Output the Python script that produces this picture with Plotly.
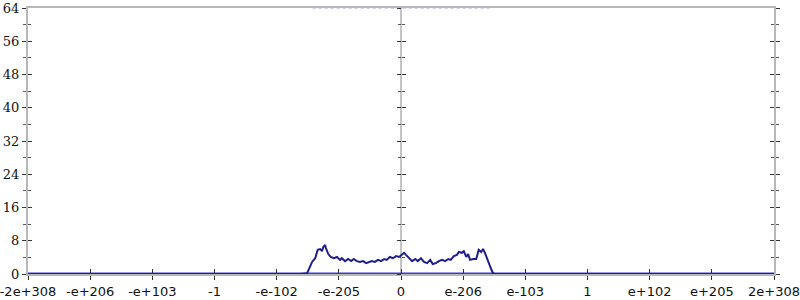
import plotly.graph_objects as go

# tick positions (axis units) and their labels
tick_pos = [-6, -5, -4, -3, -2, -1, 0, 1, 2, 3, 4, 5, 6]
tick_labels = ["-2e+308", "-e+206", "-e+103", "-1", "-e-102", "-e-205", "0",
               "e-206", "e-103", "1", "e+102", "e+205", "2e+308"]
y_ticks = [0, 8, 16, 24, 32, 40, 48, 56, 64]

# main series
xs = [-6, -1.62, -1.51, -1.48, -1.43, -1.38, -1.34, -1.30, -1.27, -1.25, -1.22, -1.21,
      -1.17, -1.13, -1.08, -1.03, -0.98, -0.95, -0.90, -0.85, -0.80, -0.76, -0.71,
      -0.66, -0.61, -0.56, -0.51, -0.47, -0.42, -0.37, -0.32, -0.27, -0.23, -0.18,
      -0.13, -0.08, -0.03, 0.02, 0.05, 0.08, 0.13, 0.18, 0.23, 0.27, 0.32, 0.37,
      0.42, 0.47, 0.51, 0.56, 0.61, 0.66, 0.71, 0.76, 0.80, 0.85, 0.90, 0.93, 0.98,
      1.01, 1.05, 1.08, 1.11, 1.16, 1.21, 1.25, 1.29, 1.32, 1.35, 1.38, 1.42, 1.45,
      1.48, 1.51, 6]
ys = [0, 0, 0.2, 1.4, 2.9, 3.8, 5.8, 6.0, 5.5, 6.5, 7.0, 6.3,
      4.8, 4.1, 3.8, 4.1, 3.4, 3.8, 3.1, 3.6, 3.1, 3.6, 3.1,
      2.9, 3.1, 2.6, 2.9, 3.1, 2.9, 3.4, 3.1, 3.6, 3.4, 4.1,
      3.8, 4.3, 4.1, 4.8, 5.1, 4.6, 3.8, 3.1, 3.6, 3.1, 3.8, 2.9,
      2.6, 3.4, 2.4, 2.6, 3.1, 3.4, 3.1, 3.6, 3.4, 4.3, 4.6, 5.3, 5.1,
      5.5, 4.1, 4.8, 3.4, 3.6, 3.6, 5.8, 5.3, 6.0, 5.1, 3.8, 2.4, 1.2,
      0.2, 0, 0]

# faint baseline / clipped band
base_x = [-6, 6]
base_y = [0, 0]
top_x = [-1.42, 1.42]
top_y = [64, 64]

fig = go.Figure()
# empty traces so that every overlay axis is drawn
for xa, ya in [("x2", "y2"), ("x", "y3"), ("x", "y4"), ("x", "y5"), ("x", "y6")]:
    fig.add_trace(go.Scatter(x=[None], y=[None], xaxis=xa, yaxis=ya,
                             mode="lines", hoverinfo="skip"))
fig.add_trace(go.Scatter(x=top_x, y=top_y, mode="lines",
                         line=dict(color="rgba(110,110,235,0.35)", width=2, dash="dot"),
                         hoverinfo="skip"))
fig.add_trace(go.Scatter(x=base_x, y=base_y, mode="lines",
                         line=dict(color="#3c3cd2", width=3),
                         hoverinfo="skip"))
fig.add_trace(go.Scatter(x=xs, y=ys, mode="lines",
                         line=dict(color="#1f1f8a", width=2),
                         hoverinfo="skip"))

AX = "#b8b8b8"
TK = "#333333"
serif = dict(family="DejaVu Serif", size=13, color="#111111")
sans = dict(family="DejaVu Sans", size=13, color="#111111")

def yax(line=True, **kw):
    d = dict(range=[0, 64], tickvals=y_ticks, showgrid=False, zeroline=False,
             showline=line, linecolor=AX, linewidth=2, tickcolor=TK,
             ticklen=4, tickwidth=1, fixedrange=True, automargin=False,
             minor=dict(dtick=4, ticklen=3, tickcolor="#555555", ticks=kw.pop("mt", "outside")))
    d.update(kw)
    return d

fig.update_layout(
    width=800, height=300,
    margin=dict(l=28, r=26, t=8, b=26),
    paper_bgcolor="white", plot_bgcolor="white",
    showlegend=False,
    xaxis=dict(range=[-6, 6], tickvals=tick_pos, ticktext=tick_labels,
               showgrid=False, zeroline=False, showline=True, linecolor=AX,
               linewidth=2, mirror=True, ticks="outside", ticklen=4,
               tickcolor=TK, tickfont=sans, fixedrange=True, automargin=False,
               ticklabeloverflow="allow"),
    xaxis2=dict(range=[-6, 6], tickvals=tick_pos, overlaying="x",
                showgrid=False, zeroline=False, showline=False,
                ticks="inside", ticklen=5, tickcolor=TK, automargin=False,
                showticklabels=False, fixedrange=True),
    yaxis=yax(ticks="outside", tickfont=serif, ticklabeloverflow="allow"),
    yaxis2=yax(line=False, ticks="inside", overlaying="y", showticklabels=False, mt="inside"),
    yaxis3=yax(line=False, ticks="outside", overlaying="y", anchor="free", position=0.5,
               showticklabels=False),
    yaxis4=yax(line=False, ticks="inside", overlaying="y", anchor="free", position=0.5,
               showticklabels=False, mt="inside"),
    yaxis5=yax(ticks="outside", overlaying="y", side="right",
               showticklabels=False),
    yaxis6=yax(line=False, ticks="inside", overlaying="y", side="right",
               showticklabels=False, mt="inside"),
    shapes=[dict(type="line", xref="x", yref="paper", x0=0, x1=0, y0=0, y1=1,
                 line=dict(color="#c4c4c4", width=2), layer="below")],
)

fig.write_html("out.html")
